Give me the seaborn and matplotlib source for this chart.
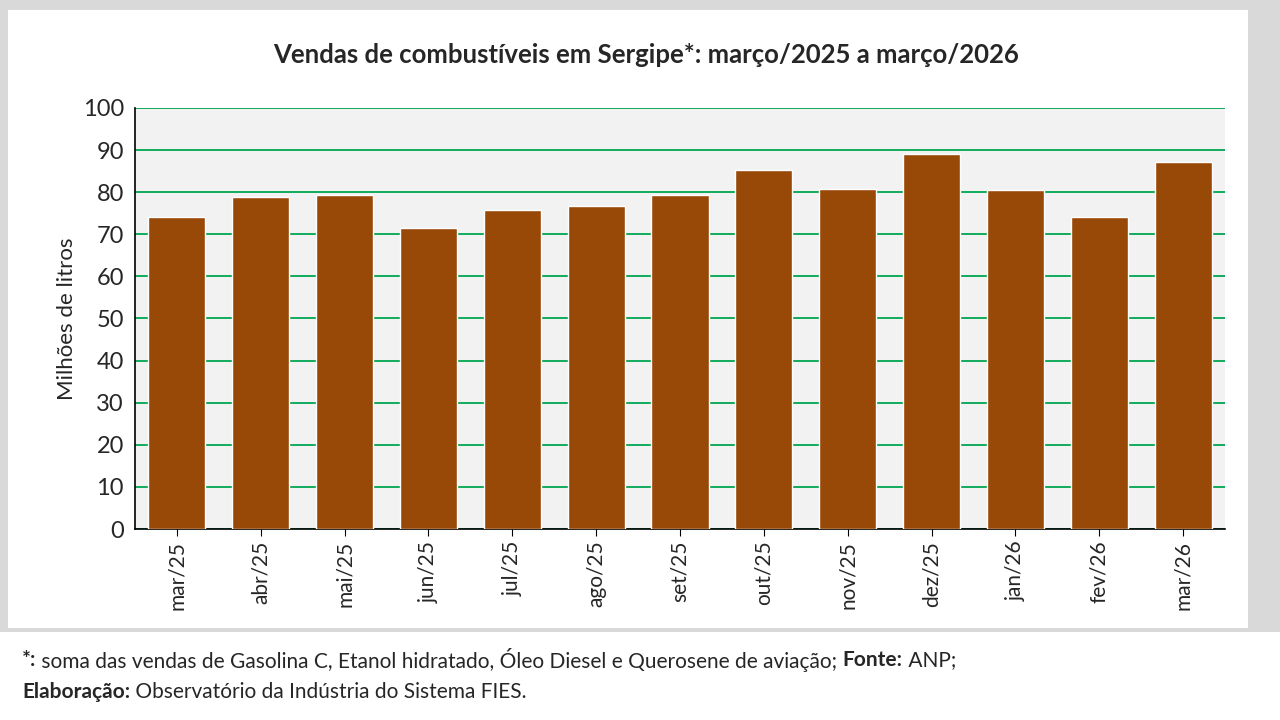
import matplotlib
matplotlib.use('Agg')
import matplotlib.pyplot as plt
import seaborn as sns
import pandas as pd
from matplotlib.patches import Rectangle

# ========== 数据 ==========
meses = ['mar/25', 'abr/25', 'mai/25', 'jun/25', 'jul/25', 'ago/25', 'set/25',
         'out/25', 'nov/25', 'dez/25', 'jan/26', 'fev/26', 'mar/26']
vendas = [74.1, 78.9, 79.3, 71.5, 75.8, 76.7, 79.3, 85.3, 80.8, 89.1, 80.5, 74.1, 87.2]
yticks = list(range(0, 101, 10))

sns.set_style('white')
plt.rcParams['font.family'] = ['Lato', 'DejaVu Sans']

df = pd.DataFrame({'mes': meses, 'vendas': vendas})

fig = plt.figure(figsize=(12.8, 7.2), dpi=100, facecolor='#d9d9d9')
# painel branco do gráfico e rodapé
fig.patches.append(Rectangle((8 / 1280, 92 / 720), 1240 / 1280, 618 / 720,
                             transform=fig.transFigure, facecolor='white',
                             edgecolor='none', zorder=-1))
fig.patches.append(Rectangle((0, 0), 1, 88 / 720, transform=fig.transFigure,
                             facecolor='white', edgecolor='none', zorder=-1))

ax = fig.add_axes([135 / 1280, 191 / 720, 1090 / 1280, 421 / 720])
ax.set_facecolor('#f2f2f2')
sns.barplot(data=df, x='mes', y='vendas', color='#984807', saturation=1,
            width=0.68, ax=ax, zorder=3)
ax.set_ylim(0, 100)
ax.set_yticks(yticks)
ax.yaxis.grid(True, color='#00a651', linewidth=1.3, zorder=0)
ax.set_axisbelow(True)
for s in ['top', 'right']:
    ax.spines[s].set_visible(False)
for s in ['left', 'bottom']:
    ax.spines[s].set_color('black')
    ax.spines[s].set_linewidth(1.2)
ax.tick_params(axis='y', labelsize=17, length=0, pad=8)
ax.tick_params(axis='x', labelsize=15, rotation=90, length=5, direction='out',
               bottom=True, color='black')
ax.set_xlabel('')
ax.set_ylabel('Milhões de litros', fontsize=16)

fig.text(0.505, 0.912, 'Vendas de combustíveis em Sergipe*: março/2025 a março/2026',
         ha='center', fontsize=18.5, fontweight='bold')


def linha_rodape(y, partes):
    """Escreve trechos em sequência (negrito / normal) na mesma linha"""
    renderer = fig.canvas.get_renderer()
    x = 22
    for texto, negrito in partes:
        t = fig.text(x / 1280, y / 720, texto, fontsize=15, va='center',
                     fontweight='bold' if negrito else 'normal')
        x += t.get_window_extent(renderer).width


linha_rodape(60, [('*:', True),
                  (' soma das vendas de Gasolina C, Etanol hidratado, Óleo Diesel e Querosene de aviação; ', False),
                  ('Fonte:', True), (' ANP;', False)])
linha_rodape(28, [('Elaboração:', True), (' Observatório da Indústria do Sistema FIES.', False)])

fig.savefig('out.png', dpi=100, facecolor=fig.get_facecolor())
